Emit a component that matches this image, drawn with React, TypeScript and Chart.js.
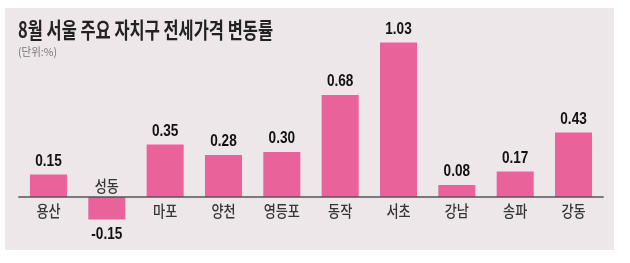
import React, { useEffect, useRef } from "react";
import { Chart, registerables } from "chart.js";

Chart.register(...registerables);

const TITLE = "8월 서울 주요 자치구 전세가격 변동률";
const UNIT = "(단위:%)";
const categories = ["용산", "성동", "마포", "양천", "영등포", "동작", "서초", "강남", "송파", "강동"];
const values = [0.15, -0.15, 0.35, 0.28, 0.3, 0.68, 1.03, 0.08, 0.17, 0.43];
const valueLabels = ["0.15", "-0.15", "0.35", "0.28", "0.30", "0.68", "1.03", "0.08", "0.17", "0.43"];

const BAR = "#e9639a";
const PANEL = "#ede7e9";

function drawText(
  ctx: CanvasRenderingContext2D,
  text: string,
  x: number,
  y: number,
  font: string,
  color: string,
  scaleX: number,
  align: "left" | "center"
) {
  ctx.save();
  ctx.font = font;
  ctx.fillStyle = color;
  ctx.textBaseline = "middle";
  ctx.textAlign = align;
  ctx.translate(x, y);
  ctx.scale(scaleX, 1);
  ctx.fillText(text, 0, 0);
  ctx.restore();
}

const decorPlugin = {
  id: "decor",
  beforeDraw(chart: any) {
    const ctx = chart.ctx as CanvasRenderingContext2D;
    ctx.save();
    ctx.fillStyle = "#ffffff";
    ctx.fillRect(0, 0, chart.width, chart.height);
    ctx.fillStyle = PANEL;
    ctx.fillRect(5, 8, 609, 242);
    ctx.restore();
  },
  afterDatasetsDraw(chart: any) {
    const ctx = chart.ctx as CanvasRenderingContext2D;
    const yScale = chart.scales.y;
    const area = chart.chartArea;
    const zeroY = yScale.getPixelForValue(0);
    // zero line
    ctx.save();
    ctx.strokeStyle = "#555555";
    ctx.lineWidth = 1.5;
    ctx.beginPath();
    ctx.moveTo(area.left - 1, zeroY);
    ctx.lineTo(area.right + 1, zeroY);
    ctx.stroke();
    ctx.restore();

    // title
    ctx.save();
    ctx.font = "bold 22px 'Noto Sans CJK KR'";
    const tw = ctx.measureText(TITLE).width;
    ctx.restore();
    drawText(ctx, TITLE, 18, 30, "bold 22px 'Noto Sans CJK KR'", "#222222", 255 / tw, "left");
    ctx.save();
    ctx.font = "11px 'Noto Sans CJK KR'";
    const uw = ctx.measureText(UNIT).width;
    ctx.restore();
    drawText(ctx, UNIT, 18, 52, "11px 'Noto Sans CJK KR'", "#777777", 39 / uw, "left");

    const meta = chart.getDatasetMeta(0);
    meta.data.forEach((bar: any, i: number) => {
      const v = values[i];
      const x = bar.x;
      const top = bar.y;
      const catFont = "500 16px 'Noto Sans CJK KR'";
      const valFont = "bold 16px 'Liberation Sans'";
      if (v >= 0) {
        drawText(ctx, valueLabels[i], x, top - 13, valFont, "#111111", 0.85, "center");
        drawText(ctx, categories[i], x, zeroY + 14, catFont, "#363636", 0.82, "center");
      } else {
        drawText(ctx, valueLabels[i], x, top + 15, valFont, "#111111", 0.85, "center");
        drawText(ctx, categories[i], x, zeroY - 11, catFont, "#363636", 0.82, "center");
      }
    });
  },
};

export default function App() {
  const ref = useRef<HTMLCanvasElement>(null);
  useEffect(() => {
    if (!ref.current) return;
    const chart = new Chart(ref.current, {
      type: "bar",
      data: {
        labels: categories,
        datasets: [
          {
            data: values,
            backgroundColor: BAR,
            borderWidth: 0,
            barPercentage: 0.635,
            categoryPercentage: 1,
          },
        ],
      },
      options: {
        animation: false,
        responsive: false,
        maintainAspectRatio: false,
        layout: { padding: { left: 19.3, right: 27.3, top: 17, bottom: 6 } },
        plugins: { legend: { display: false }, tooltip: { enabled: false }, title: { display: false } },
        scales: {
          x: { display: false },
          y: { display: false, min: -0.4, max: 1.2 },
        },
      },
      plugins: [decorPlugin],
    });
    return () => chart.destroy();
  }, []);
  return (
    <div style={{ position: "fixed", left: 0, top: 0, width: 630, height: 263, background: "#fff" }}>
      <canvas ref={ref} width={630} height={263} style={{ display: "block" }} />
    </div>
  );
}
